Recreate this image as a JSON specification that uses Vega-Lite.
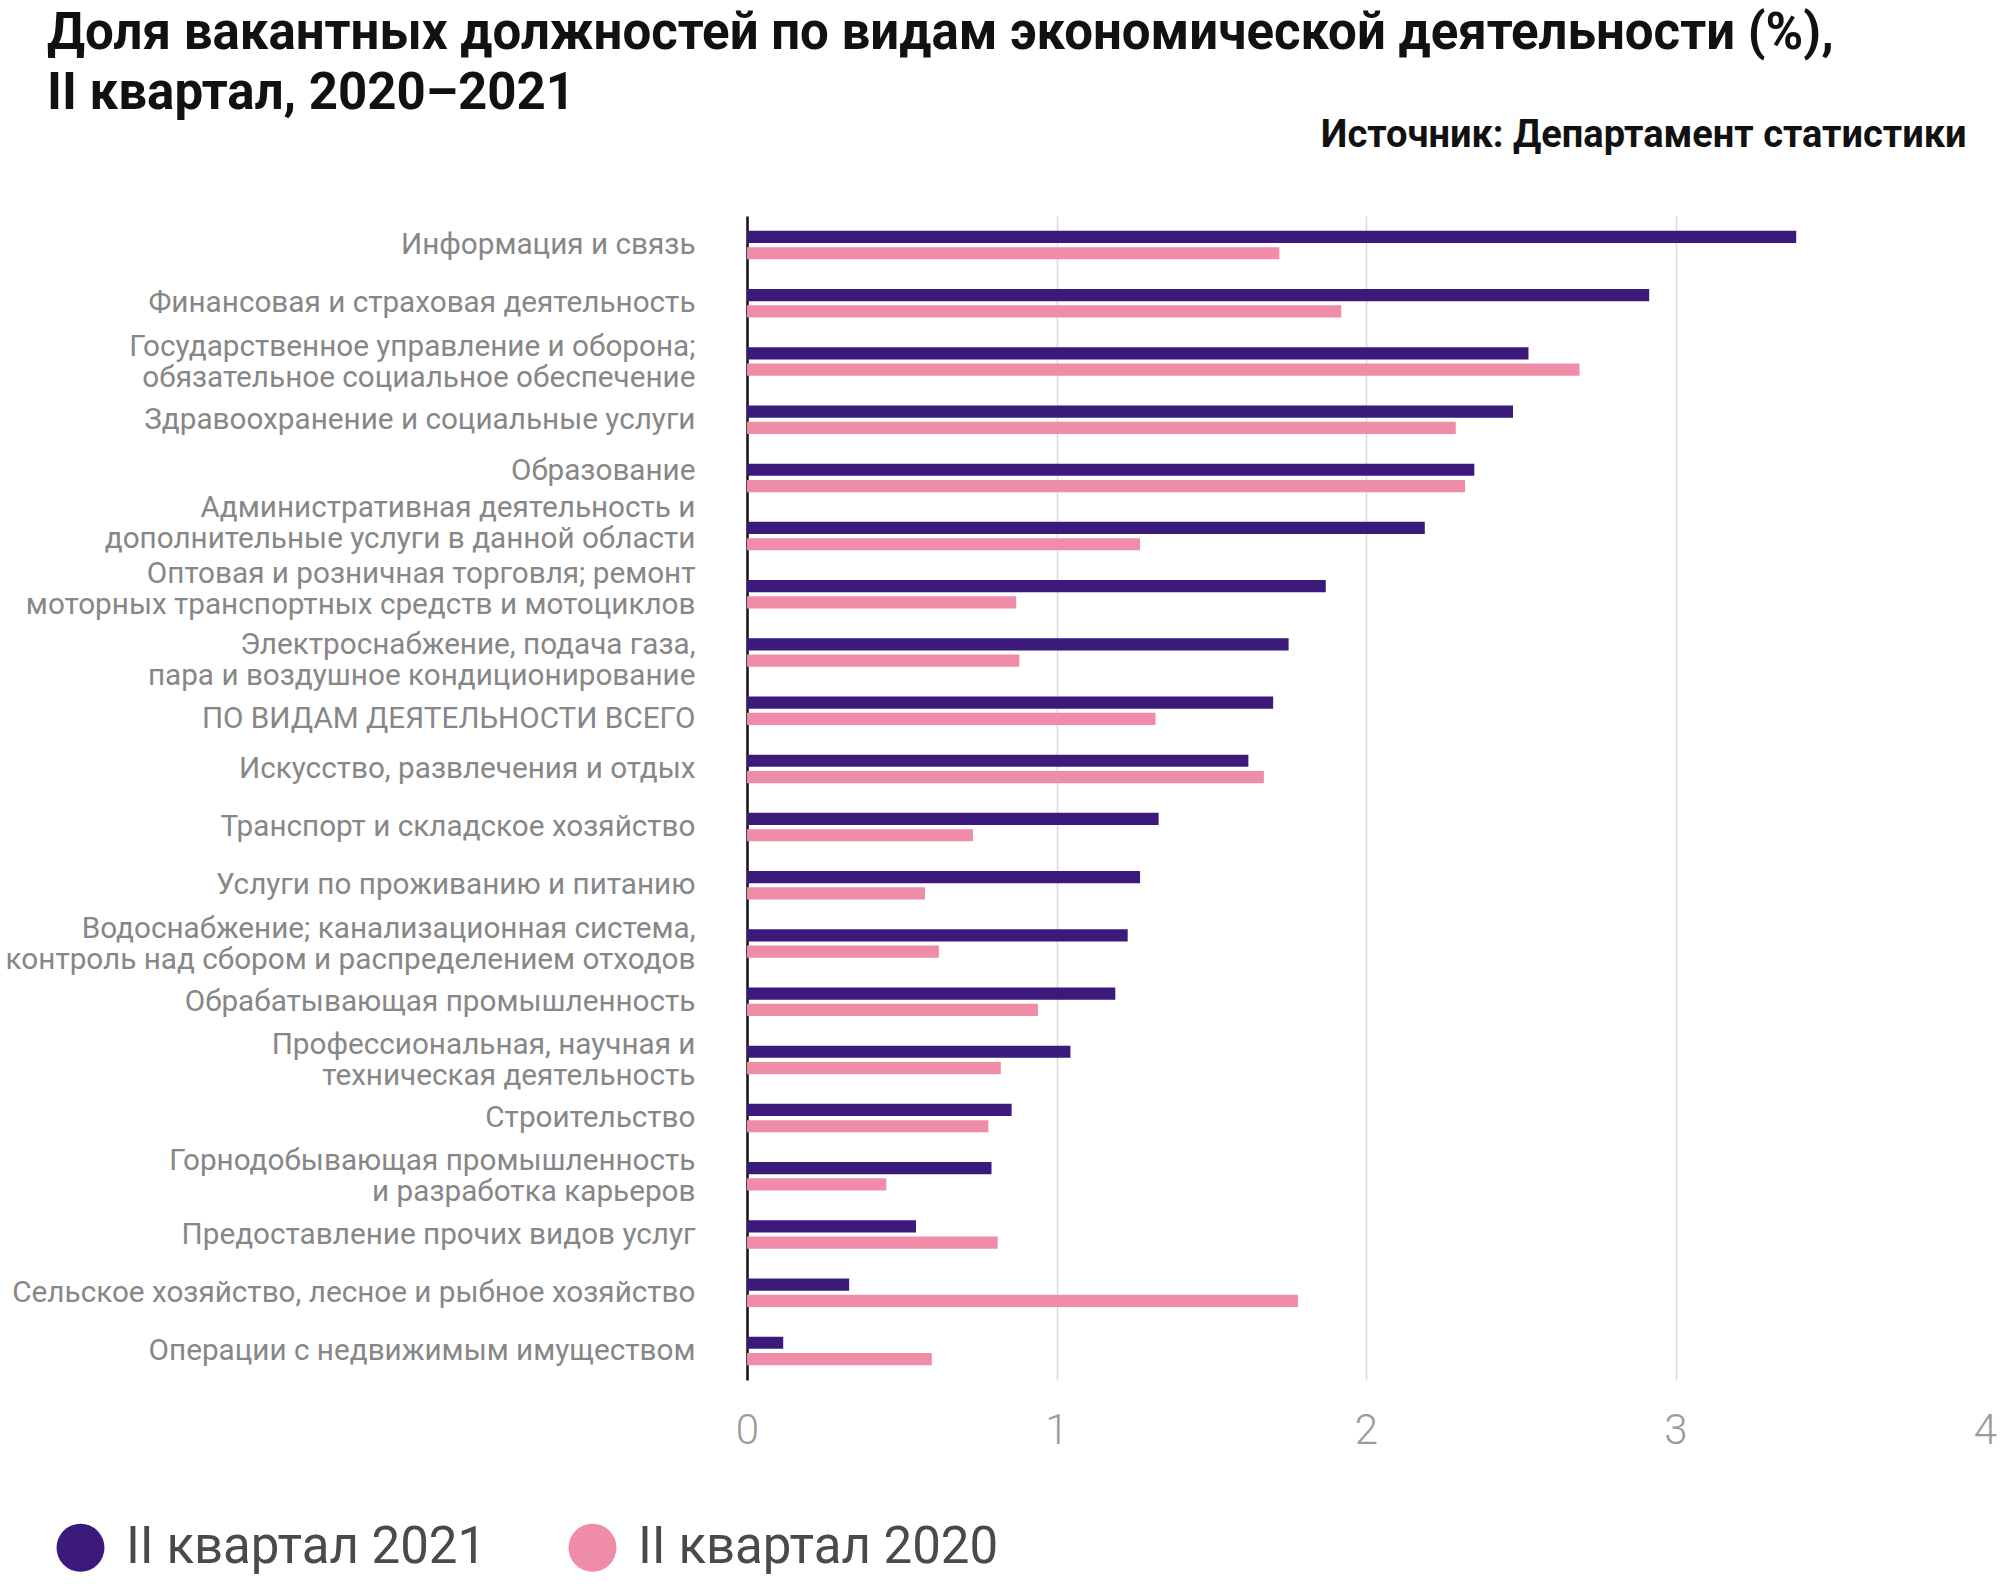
{
  "$schema": "https://vega.github.io/schema/vega-lite/v6.json",
  "background": "white",
  "padding": {"left": 5, "top": 8, "right": 13, "bottom": 10},
  "title": {
    "text": ["Доля вакантных должностей по видам экономической деятельности (%),", "II квартал, 2020–2021"],
    "anchor": "start",
    "font": "Roboto",
    "fontSize": 51,
    "fontWeight": "bold",
    "color": "#111111",
    "lineHeight": 60,
    "offset": -3,
    "dx": 42
  },
  "config": {"view": {"stroke": null}, "concat": {"spacing": 0}},
  "resolve": {"scale": {"color": "independent"}, "legend": {"color": "independent"}},
  "vconcat": [
    {
      "title": {
        "text": "Источник: Департамент статистики",
        "anchor": "end",
        "font": "Roboto",
        "fontSize": 38,
        "fontWeight": "bold",
        "color": "#111111",
        "offset": 61,
        "dx": -30
      },
      "width": 1238,
      "height": 1164,
      "data": {
        "values": [
          {"category": "Информация и связь", "period": "II квартал 2021", "value": 3.39},
          {"category": "Информация и связь", "period": "II квартал 2020", "value": 1.72},
          {"category": "Финансовая и страховая деятельность", "period": "II квартал 2021", "value": 2.915},
          {"category": "Финансовая и страховая деятельность", "period": "II квартал 2020", "value": 1.92},
          {"category": "Государственное управление и оборона;\nобязательное социальное обеспечение", "period": "II квартал 2021", "value": 2.525},
          {"category": "Государственное управление и оборона;\nобязательное социальное обеспечение", "period": "II квартал 2020", "value": 2.69},
          {"category": "Здравоохранение и социальные услуги", "period": "II квартал 2021", "value": 2.475},
          {"category": "Здравоохранение и социальные услуги", "period": "II квартал 2020", "value": 2.29},
          {"category": "Образование", "period": "II квартал 2021", "value": 2.35},
          {"category": "Образование", "period": "II квартал 2020", "value": 2.32},
          {"category": "Административная деятельность и\nдополнительные услуги в данной области", "period": "II квартал 2021", "value": 2.19},
          {"category": "Административная деятельность и\nдополнительные услуги в данной области", "period": "II квартал 2020", "value": 1.27},
          {"category": "Оптовая и розничная торговля; ремонт\nмоторных транспортных средств и мотоциклов", "period": "II квартал 2021", "value": 1.87},
          {"category": "Оптовая и розничная торговля; ремонт\nмоторных транспортных средств и мотоциклов", "period": "II квартал 2020", "value": 0.87},
          {"category": "Электроснабжение, подача газа,\nпара и воздушное кондиционирование", "period": "II квартал 2021", "value": 1.75},
          {"category": "Электроснабжение, подача газа,\nпара и воздушное кондиционирование", "period": "II квартал 2020", "value": 0.88},
          {"category": "ПО ВИДАМ ДЕЯТЕЛЬНОСТИ ВСЕГО", "period": "II квартал 2021", "value": 1.70},
          {"category": "ПО ВИДАМ ДЕЯТЕЛЬНОСТИ ВСЕГО", "period": "II квартал 2020", "value": 1.32},
          {"category": "Искусство, развлечения и отдых", "period": "II квартал 2021", "value": 1.62},
          {"category": "Искусство, развлечения и отдых", "period": "II квартал 2020", "value": 1.67},
          {"category": "Транспорт и складское хозяйство", "period": "II квартал 2021", "value": 1.33},
          {"category": "Транспорт и складское хозяйство", "period": "II квартал 2020", "value": 0.73},
          {"category": "Услуги по проживанию и питанию", "period": "II квартал 2021", "value": 1.27},
          {"category": "Услуги по проживанию и питанию", "period": "II квартал 2020", "value": 0.575},
          {"category": "Водоснабжение; канализационная система,\nконтроль над сбором и распределением отходов", "period": "II квартал 2021", "value": 1.23},
          {"category": "Водоснабжение; канализационная система,\nконтроль над сбором и распределением отходов", "period": "II квартал 2020", "value": 0.62},
          {"category": "Обрабатывающая промышленность", "period": "II квартал 2021", "value": 1.19},
          {"category": "Обрабатывающая промышленность", "period": "II квартал 2020", "value": 0.94},
          {"category": "Профессиональная, научная и\nтехническая деятельность", "period": "II квартал 2021", "value": 1.045},
          {"category": "Профессиональная, научная и\nтехническая деятельность", "period": "II квартал 2020", "value": 0.82},
          {"category": "Строительство", "period": "II квартал 2021", "value": 0.855},
          {"category": "Строительство", "period": "II квартал 2020", "value": 0.78},
          {"category": "Горнодобывающая промышленность\nи разработка карьеров", "period": "II квартал 2021", "value": 0.79},
          {"category": "Горнодобывающая промышленность\nи разработка карьеров", "period": "II квартал 2020", "value": 0.45},
          {"category": "Предоставление прочих видов услуг", "period": "II квартал 2021", "value": 0.546},
          {"category": "Предоставление прочих видов услуг", "period": "II квартал 2020", "value": 0.81},
          {"category": "Сельское хозяйство, лесное и рыбное хозяйство", "period": "II квартал 2021", "value": 0.33},
          {"category": "Сельское хозяйство, лесное и рыбное хозяйство", "period": "II квартал 2020", "value": 1.78},
          {"category": "Операции с недвижимым имуществом", "period": "II квартал 2021", "value": 0.117},
          {"category": "Операции с недвижимым имуществом", "period": "II квартал 2020", "value": 0.597}
        ]
      },
      "mark": {"type": "bar"},
      "encoding": {
        "y": {
          "field": "category",
          "type": "nominal",
          "sort": null,
          "scale": {"paddingInner": 0.51, "paddingOuter": 0.255},
          "axis": {
            "title": null,
            "labelExpr": "split(datum.label, '\\n')",
            "labelFont": "Roboto",
            "labelFontSize": 29.7,
            "labelLineHeight": 31,
            "labelColor": "#878787",
            "labelLimit": 900,
            "labelPadding": 52,
            "labelOffset": {
              "condition": [
                {"test": "indexof(datum.value, 'Административная') == 0", "value": -28},
                {"test": "indexof(datum.value, 'Оптовая') == 0", "value": -20},
                {"test": "indexof(datum.value, 'Электроснабжение') == 0", "value": -8},
                {"test": "datum.value == 'Образование'", "value": -7},
                {"test": "datum.value == 'ПО ВИДАМ ДЕЯТЕЛЬНОСТИ ВСЕГО'", "value": 8},
                {"test": "indexof(datum.value, '\\n') >= 0", "value": -15}
              ],
              "value": 0
            },
            "ticks": false,
            "domain": true,
            "domainColor": "#111111",
            "domainWidth": 2.5
          }
        },
        "yOffset": {
          "field": "period",
          "type": "nominal",
          "sort": ["II квартал 2021", "II квартал 2020"],
          "scale": {"paddingInner": 0.25}
        },
        "x": {
          "field": "value",
          "type": "quantitative",
          "scale": {"domain": [0, 4], "nice": false},
          "axis": {
            "title": null,
            "values": [0, 1, 2, 3, 4],
            "grid": true,
            "gridColor": "#dcdcdc",
            "gridWidth": 1.5,
            "gridOpacity": {"condition": {"test": "datum.value == 4", "value": 0}, "value": 1},
            "domain": false,
            "ticks": false,
            "labelFlush": false,
            "labelFont": "Roboto",
            "labelFontWeight": 300,
            "labelFontSize": 42,
            "labelColor": "#9b9b9b",
            "labelPadding": 30
          }
        },
        "color": {
          "field": "period",
          "type": "nominal",
          "sort": ["II квартал 2021", "II квартал 2020"],
          "scale": {"domain": ["II квартал 2021", "II квартал 2020"], "range": ["#3b1a7c", "#ef8ca7"]},
          "legend": {
            "title": null,
            "orient": "none",
            "direction": "horizontal",
            "legendX": -692,
            "legendY": 1306,
            "symbolType": "circle",
            "symbolSize": 2300,
            "symbolStrokeWidth": 0,
            "labelFont": "Roboto",
            "labelFontSize": 51,
            "labelColor": "#4a4a4a",
            "labelOffset": 20,
            "columnPadding": 80,
            "labelLimit": 600
          }
        }
      }
    }
  ]
}
